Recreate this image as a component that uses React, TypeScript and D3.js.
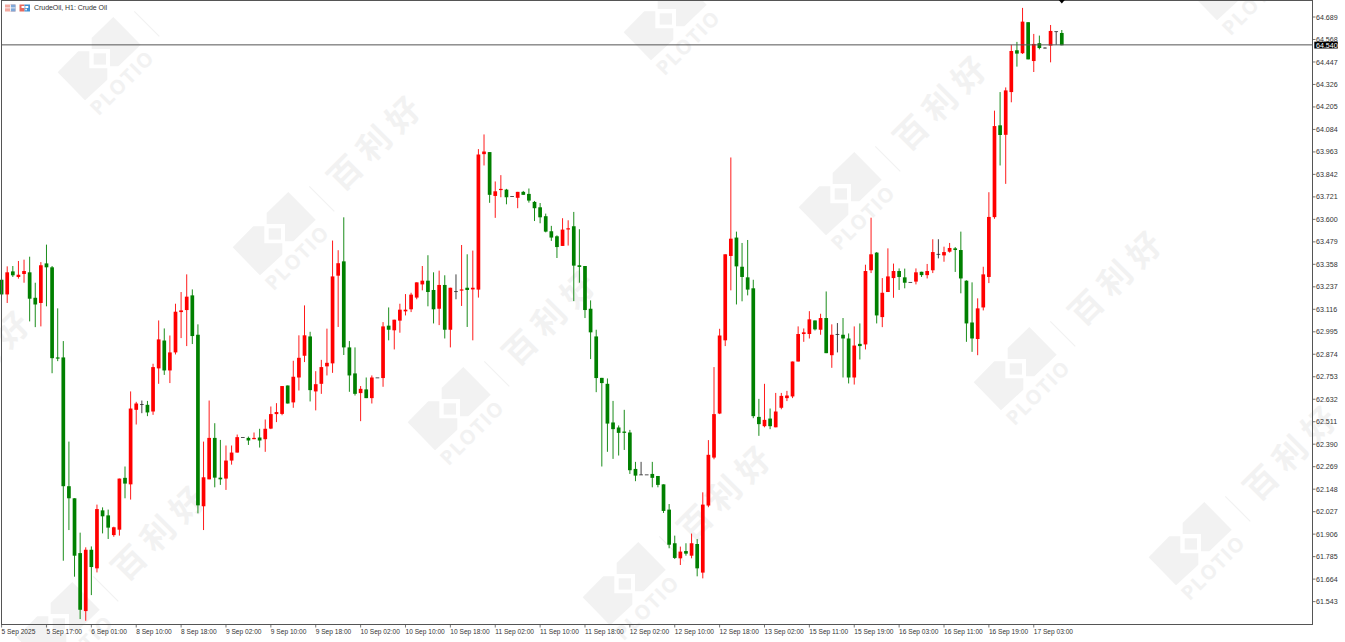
import React from "react";
import * as d3 from "d3";

const W = 1345, H = 642;

const opens = [
63.275,63.196,63.320,63.290,63.306,63.315,63.178,63.150,63.363,63.342,
62.857,62.857,62.164,62.099,61.804,61.492,61.822,61.722,62.034,62.007,
61.901,61.930,62.209,62.174,62.575,62.604,62.602,62.566,62.798,62.948,
62.787,62.884,63.101,63.112,63.191,62.979,62.056,62.201,62.424,62.210,
62.205,62.302,62.345,62.426,62.424,62.417,62.426,62.417,62.474,62.552,
62.553,62.706,62.615,62.749,62.866,62.970,62.674,62.715,62.809,62.825,
63.297,63.374,62.911,62.771,62.665,62.685,62.638,62.747,62.746,63.028,
63.003,63.055,63.105,63.116,63.179,63.250,63.270,63.220,63.119,63.247,
63.006,63.211,63.218,63.232,63.223,63.222,63.951,63.962,63.726,63.759,
63.760,63.723,63.716,63.748,63.737,63.694,63.665,63.617,63.536,63.509,
63.457,63.547,63.563,63.353,63.349,63.119,62.970,62.747,62.715,62.507,
62.480,62.458,62.453,62.257,62.225,62.225,62.230,62.219,62.174,62.038,
61.857,61.776,61.815,61.790,61.853,61.699,62.060,62.318,62.555,62.949,
63.403,63.502,63.345,63.288,63.229,62.537,62.487,62.528,62.481,62.586,
62.638,62.647,62.835,62.983,62.983,63.056,63.006,63.069,62.869,62.981,
62.979,62.959,62.749,62.930,62.927,63.326,63.421,63.074,63.209,63.284,
63.322,63.288,63.261,63.265,63.318,63.300,63.326,63.412,63.406,63.426,
63.444,63.435,63.270,63.045,62.956,63.126,63.290,63.612,64.106,64.055,
64.285,64.510,64.494,64.661,64.452,64.548,64.522,64.535,64.610,64.603,
];

const highs = [
63.280,63.347,63.349,63.376,63.383,63.399,63.259,63.370,63.464,63.349,
63.121,62.945,62.404,62.099,61.914,61.835,61.840,62.065,62.050,62.038,
61.946,62.205,62.270,62.674,62.618,62.625,62.623,62.823,63.056,63.013,
62.975,63.146,63.209,63.304,63.223,63.035,62.404,62.625,62.503,62.413,
62.383,62.383,62.442,62.426,62.431,62.453,62.473,62.523,62.593,62.611,
62.703,62.706,62.839,62.976,63.137,62.995,62.783,62.844,63.012,63.486,
63.434,63.611,62.945,62.911,62.703,62.749,62.760,62.747,63.047,63.126,
63.060,63.146,63.198,63.205,63.261,63.349,63.407,63.315,63.324,63.299,
63.232,63.304,63.462,63.412,63.432,63.978,64.057,63.962,63.804,63.838,
63.764,63.723,63.748,63.753,63.766,63.699,63.688,63.631,63.565,63.514,
63.606,63.595,63.640,63.547,63.349,63.164,63.006,62.747,62.744,62.623,
62.491,62.575,62.467,62.295,62.295,62.225,62.295,62.219,62.174,62.068,
61.898,61.839,61.857,61.909,61.880,62.131,62.412,62.805,63.011,63.412,
63.933,63.534,63.473,63.489,63.275,62.634,62.715,62.582,62.666,62.666,
62.677,62.835,63.024,63.013,63.106,63.056,63.092,63.212,63.035,63.042,
63.069,62.986,63.024,63.040,63.356,63.609,63.424,63.284,63.444,63.362,
63.336,63.335,63.261,63.336,63.318,63.360,63.493,63.493,63.453,63.473,
63.451,63.534,63.272,63.261,63.175,63.345,63.746,64.185,64.285,64.310,
64.539,64.555,64.738,64.661,64.598,64.589,64.526,64.646,64.610,64.619,
];

const lows = [
63.190,63.150,63.290,63.281,63.259,63.051,63.020,63.024,63.132,62.772,
62.837,61.763,61.928,61.677,61.449,61.440,61.578,61.700,61.910,61.880,
61.892,61.898,62.099,62.092,62.496,62.557,62.541,62.548,62.715,62.763,
62.719,62.873,62.961,62.918,62.929,62.018,61.928,62.201,62.158,62.171,
62.144,62.280,62.345,62.426,62.386,62.417,62.372,62.349,62.471,62.509,
62.546,62.609,62.586,62.679,62.832,62.620,62.572,62.661,62.760,62.774,
63.021,62.870,62.672,62.652,62.514,62.638,62.609,62.747,62.699,62.949,
62.900,62.990,63.083,63.101,63.170,63.218,63.132,63.040,63.031,62.959,
62.911,63.170,63.134,63.021,62.949,63.179,63.890,63.689,63.608,63.719,
63.681,63.723,63.660,63.732,63.690,63.591,63.579,63.530,63.484,63.392,
63.457,63.459,63.160,63.259,63.069,62.848,62.670,62.270,62.349,62.311,
62.329,62.359,62.230,62.191,62.225,62.225,62.158,62.158,62.020,61.830,
61.772,61.740,61.790,61.776,61.679,61.668,62.051,62.309,62.552,62.918,
63.218,63.142,63.159,63.191,62.530,62.435,62.481,62.471,62.481,62.578,
62.622,62.638,62.835,62.941,62.959,63.002,62.979,62.880,62.801,62.884,
62.749,62.717,62.711,62.846,62.900,63.311,63.040,63.020,63.209,63.178,
63.220,63.229,63.261,63.250,63.290,63.282,63.311,63.390,63.372,63.421,
63.317,63.202,62.941,62.887,62.869,63.110,63.257,63.603,63.890,63.791,
64.230,64.422,64.490,64.461,64.393,64.515,64.519,64.445,64.539,64.537,
];

const closes = [
63.196,63.315,63.299,63.302,63.322,63.173,63.142,63.353,63.342,62.853,
62.853,62.164,62.099,61.790,61.499,61.822,61.729,62.041,62.002,61.941,
61.943,62.205,62.178,62.582,62.609,62.604,62.561,62.805,62.954,62.787,
62.884,63.103,63.110,63.184,62.972,62.061,62.212,62.424,62.210,62.201,
62.302,62.345,62.428,62.426,62.410,62.424,62.410,62.473,62.552,62.563,
62.703,62.609,62.753,62.855,62.976,62.681,62.713,62.805,62.828,63.293,
63.364,62.911,62.760,62.661,62.688,62.638,62.749,62.747,63.024,63.006,
63.060,63.114,63.114,63.195,63.261,63.270,63.209,63.116,63.247,63.006,
63.232,63.211,63.223,63.220,63.232,63.949,63.965,63.732,63.751,63.764,
63.719,63.723,63.748,63.732,63.701,63.660,63.611,63.534,63.502,63.451,
63.545,63.552,63.351,63.344,63.112,62.992,62.746,62.719,62.501,62.471,
62.451,62.451,62.250,62.221,62.225,62.225,62.209,62.171,62.031,61.849,
61.778,61.812,61.801,61.857,61.722,62.065,62.333,62.552,62.975,63.412,
63.496,63.347,63.290,63.222,62.541,62.498,62.521,62.487,62.566,62.650,
62.652,62.835,62.983,62.992,63.062,63.008,63.069,62.880,62.979,62.981,
62.959,62.749,62.921,62.918,63.322,63.412,63.083,63.205,63.293,63.322,
63.290,63.259,63.261,63.315,63.300,63.322,63.424,63.412,63.424,63.446,
63.435,63.282,63.040,62.959,63.121,63.304,63.613,64.102,64.054,64.294,
64.506,64.492,64.664,64.461,64.544,64.522,64.522,64.614,64.610,64.537,
];

const priceTicks = [
"64.689","64.568","64.447","64.326","64.205","64.084","63.963","63.842","63.721",
"63.600","63.479","63.358","63.237","63.116","62.995","62.874","62.753","62.632",
"62.511","62.390","62.269","62.148","62.027","61.906","61.785","61.664","61.543",
];

const timeTicks = [
"5 Sep 2025","5 Sep 17:00","6 Sep 01:00","8 Sep 10:00","8 Sep 18:00","9 Sep 02:00",
"9 Sep 10:00","9 Sep 18:00","10 Sep 02:00","10 Sep 10:00","10 Sep 18:00","11 Sep 02:00",
"11 Sep 10:00","11 Sep 18:00","12 Sep 02:00","12 Sep 10:00","12 Sep 18:00","13 Sep 02:00",
"15 Sep 11:00","15 Sep 19:00","16 Sep 03:00","16 Sep 11:00","16 Sep 19:00","17 Sep 03:00",
];

const lastPrice = 64.539;
const lastPriceLabel = "64.540";
const title = "CrudeOil, H1:  Crude Oil";

const UP = "#ff0000", DOWN = "#008000", DOJI = "#2a2a2a", FRAME = "#555555", WM = "#f2f2f2";
const FONT = "'Liberation Sans', Arial, sans-serif";

const x = d3.scaleLinear().domain([0, 189]).range([1.6, 1061.8]);
const y = d3.scaleLinear().domain([64.689, 61.543]).range([17, 601.6]);

const frame = { l: 1.5, t: 0.5, r: 1312.5, b: 624.5 };

const wmAnchors: [number, number][] = [];
[[-291, 273], [275, 233], [841, 193], [1407, 153]].forEach(([ax, ay]) => {
  for (let k = -4; k <= 4; k++) {
    const px = ax + 175 * k, py = ay + 175 * k;
    if (px > -150 && px < W + 60 && py > -60 && py < H + 60) wmAnchors.push([px, py]);
  }
});

const inView = (px: number, py: number, m: number) => px > -m && px < W + m && py > -m && py < H + m;

function Watermark({ ax, ay }: { ax: number; ay: number }) {
  return (
    <g transform={`translate(${ax},${ay})`} fill={WM}>
      <polygon points="-8.3,-20 13.3,-41 40.7,-13.3 18.3,8.3 10,8.3 10,-9 -8.3,-9" />
      <polygon points="-42.3,14.3 -21.7,-6.7 -10.7,-6.7 -10.7,10.3 7.3,10.3 7.3,21.7 -15,42.3" />
      <rect x={-6.3} y={-4.7} width={12.3} height={11.3} />
      {inView(ax + 21.7, ay + 25, 20) && (
        <text
          transform="translate(21.7,25) rotate(-45)"
          textAnchor="middle"
          dy="0.36em"
          fontFamily="'Open Sans', sans-serif"
          fontWeight={700}
          fontSize={20}
          textLength={80}
        >
          PLOTIO
        </text>
      )}
      <line x1={34.3} y1={-46.7} x2={59.3} y2={-21.7} stroke={WM} strokeWidth={1.2} />
      {inView(ax + 99, ay - 89, 30) && (
        <text
          transform="translate(99,-89) rotate(-45)"
          textAnchor="middle"
          dx={4}
          dy="0.36em"
          fontFamily="'Noto Sans CJK SC', sans-serif"
          fontWeight={700}
          fontSize={33}
          letterSpacing={8}
        >
          百利好
        </text>
      )}
    </g>
  );
}

export default function App() {
  const bw = 3.7;
  return (
    <svg
      width={W}
      height={H}
      viewBox={`0 0 ${W} ${H}`}
      style={{ position: "fixed", left: 0, top: 0, background: "#fff", display: "block" }}
    >
      <rect width={W} height={H} fill="#fff" />
      {wmAnchors.map(([ax, ay], i) => (
        <Watermark key={i} ax={ax} ay={ay} />
      ))}

      {opens.map((o, i) => {
        const c = closes[i];
        const doji = o === c;
        const col = doji ? DOJI : c > o ? UP : DOWN;
        const top = y(Math.max(o, c));
        const bot = y(Math.min(o, c));
        return (
          <g key={i}>
            <line x1={x(i)} x2={x(i)} y1={y(highs[i])} y2={y(lows[i])} stroke={col} strokeWidth={0.9} />
            {doji ? (
              <rect x={x(i) - bw / 2} y={top - 0.4} width={bw} height={0.8} fill={col} />
            ) : (
              <rect x={x(i) - bw / 2} y={top} width={bw} height={Math.max(1.2, bot - top)} fill={col} />
            )}
          </g>
        );
      })}

      <line x1={frame.l} x2={frame.r} y1={y(lastPrice)} y2={y(lastPrice)} stroke={FRAME} strokeWidth={1} />
      <rect x={frame.l} y={frame.t} width={frame.r - frame.l} height={frame.b - frame.t} fill="none" stroke={FRAME} strokeWidth={1} />
      <path d={`M${x(189) - 3},0 L${x(189) + 3},0 L${x(189)},3.5 Z`} fill="#000" />

      <g transform="translate(5,4.5)">
        <rect width={10.5} height={7} fill="#f4a9a0" />
        <rect x={5.5} width={5} height={7} fill="#7fa8d8" />
        <rect y={3} width={10.5} height={0.8} fill="#fff" />
        <rect x={5} width={0.8} height={7} fill="#fff" />
      </g>
      <g transform="translate(19.5,4.5)">
        <rect width={5} height={7} fill="#e8695c" />
        <rect x={5} width={5.5} height={7} fill="#3f8fd2" />
        <rect x={2} y={1.5} width={3} height={2} fill="#fff" />
        <rect x={5.8} y={1.5} width={3} height={2} fill="#fff" />
        <rect x={5.8} y={4.2} width={1.6} height={1.6} fill="#fff" />
      </g>
      <text x={34} y={10.4} fontFamily={FONT} fontSize={7} fill="#333" textLength={73}>
        {title}
      </text>

      {priceTicks.map((t) => {
        const py = y(+t);
        return (
          <g key={t}>
            <line x1={frame.r} x2={frame.r + 3} y1={py} y2={py} stroke={FRAME} strokeWidth={0.8} />
            <text x={1316} y={py} dy="0.36em" fontFamily={FONT} fontSize={7.1} fill="#333">
              {t}
            </text>
          </g>
        );
      })}
      <rect x={1314.3} y={41.7} width={23.5} height={6.8} fill="#000" />
      <text x={1316} y={y(lastPrice)} dy="0.38em" fontFamily={FONT} fontSize={7.1} fill="#fff">
        {lastPriceLabel}
      </text>

      {timeTicks.map((t, i) => {
        const tx = x(i * 8);
        return (
          <g key={t}>
            <line x1={tx} x2={tx} y1={frame.b} y2={frame.b + 3} stroke={FRAME} strokeWidth={0.8} />
            <text x={tx} y={633.6} fontFamily={FONT} fontSize={6.6} fill="#333">
              {t}
            </text>
          </g>
        );
      })}
    </svg>
  );
}
